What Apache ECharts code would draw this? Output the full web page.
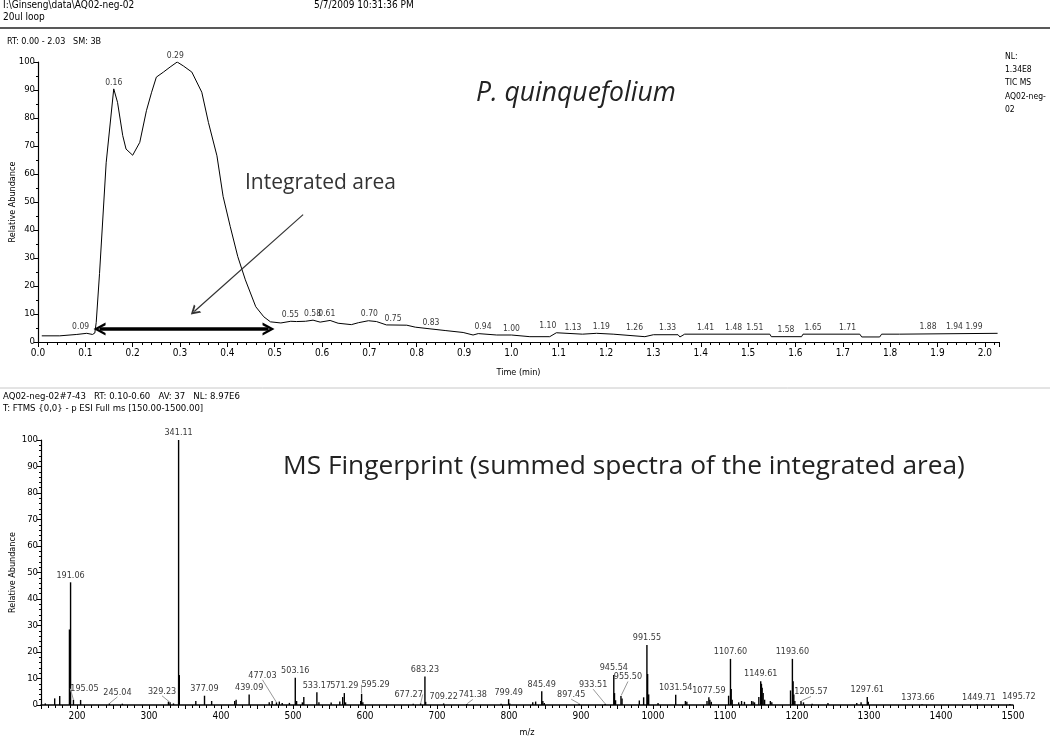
<html>
<head>
<meta charset="utf-8" />
<script src="https://cdn.jsdelivr.net/npm/echarts@6/dist/echarts.min.js"></script>
<style>
  html, body { margin: 0; padding: 0; background: #fff; }
  #main { width: 1050px; height: 741px; }
</style>
</head>
<body>
<div id="main"></div>
<script type="text/javascript">
// chromatogram (TIC), time in min vs relative abundance
var ticTime = [0.008, 0.046, 0.05, 0.082, 0.085, 0.103, 0.106, 0.115, 0.12, 0.123, 0.13, 0.144, 0.16, 0.168,
  0.179, 0.186, 0.2, 0.215, 0.229, 0.24, 0.25, 0.265, 0.279, 0.294, 0.307, 0.325, 0.346, 0.36, 0.378, 0.391,
  0.406, 0.422, 0.438, 0.46, 0.477, 0.491, 0.513, 0.534, 0.546, 0.565, 0.581, 0.596, 0.617, 0.634, 0.662,
  0.677, 0.698, 0.715, 0.736, 0.779, 0.797, 0.828, 0.86, 0.898, 0.919, 0.93, 0.969, 1.0, 1.039, 1.081, 1.095,
  1.15, 1.18, 1.215, 1.282, 1.30, 1.352, 1.356, 1.366, 1.546, 1.549, 1.613, 1.616, 1.736, 1.74, 1.778, 1.782,
  1.82, 1.824, 2.027];
var ticAbund = [2.2, 2.2, 2.6, 2.7, 3.1, 3.1, 2.7, 2.7, 3.2, 7, 24.5, 64, 90.4, 85.6,
  73.7, 68.9, 66.7, 71.3, 82.6, 89.2, 94.6, 96.4, 98.2, 100, 98.6, 96.4, 89.2, 78.4, 66.5, 52,
  41.3, 30.5, 22.2, 12.6, 9, 7.2, 6.8, 7.4, 7.3, 7.4, 7.8, 7.1, 7.7, 6.7, 6.2,
  6.9, 7.6, 7.3, 6.1, 6.0, 5.3, 4.7, 4.1, 3.4, 2.5, 3.0, 2.5, 2.5, 1.9, 1.9, 3.3,
  2.8, 3.1, 2.8, 1.9, 2.6, 2.6, 1.8, 2.8, 2.8, 1.9, 1.9, 2.8, 2.8, 1.8, 1.8, 2.8,
  2.8, 3.1, 3.1];

// labelled retention times on the TIC
var ticPeakRT = [0.09, 0.16, 0.29, 0.55, 0.58, 0.61, 0.70, 0.75, 0.83, 0.94, 1.00, 1.10, 1.13, 1.19, 1.26,
  1.33, 1.41, 1.48, 1.51, 1.58, 1.65, 1.71, 1.88, 1.94, 1.99];
var ticPeakAbund = [3.1, 90.4, 100, 7.4, 7.8, 7.7, 7.6, 6.0, 4.7, 3.0, 2.5, 3.3, 2.9, 3.1, 2.7,
  2.6, 2.8, 2.8, 2.8, 1.9, 2.8, 2.8, 3.1, 3.1, 3.1];
// horizontal nudges (px) of some TIC labels
var ticLabelShift = { '0.55': -8, '1.10': -11, '1.48': -5, '1.51': 2, '1.65': -6, '1.94': -2, '1.99': -6 };

// integrated range and the annotation arrow (time, abundance)
var integRange = [0.13, 0.487];
var integLevel = 4.6;
var noteArrowFrom = [0.56, 45.5];
var noteArrowTo = [0.33, 10.9];

// mass spectrum, m/z vs relative abundance
var specMz = [156.0, 169.0, 176.0, 189.5, 191.06, 195.05, 205.0, 245.04, 263.0, 327.0, 329.23, 334.0,
  341.11, 342.11, 365.0, 377.09, 387.0, 419.0, 421.0, 439.09, 467.0, 471.0, 477.03, 481.0, 485.0, 495.0,
  503.16, 505.0, 513.0, 515.0, 533.17, 536.0, 553.0, 565.0, 569.0, 571.29, 573.0, 594.0, 595.29, 597.0,
  667.0, 677.27, 683.23, 684.23, 709.22, 741.38, 789.0, 799.49, 801.0, 833.0, 837.0, 845.49, 847.0, 849.0,
  897.45, 933.51, 945.54, 946.54, 948.0, 955.50, 957.0, 981.0, 987.0, 991.55, 992.55, 994.0, 1007.0,
  1031.54, 1045.0, 1047.0, 1075.0, 1077.59, 1079.0, 1081.0, 1105.0, 1107.60, 1108.60, 1110.0, 1119.0,
  1123.0, 1127.0, 1137.0, 1139.0, 1141.0, 1147.0, 1149.61, 1150.61, 1151.6, 1153.0, 1155.0, 1163.0,
  1165.0, 1191.0, 1193.60, 1194.6, 1195.6, 1197.0, 1205.57, 1209.0, 1221.0, 1243.0, 1283.0, 1289.0,
  1297.61, 1299.0, 1373.66, 1449.71, 1495.72];
var specAbund = [0.6, 2.5, 3.4, 28.5, 46.3, 2.0, 1.9, 0.6, 0.5, 1.3, 1.0, 0.6,
  100, 11.3, 1.5, 3.5, 1.5, 1.5, 2.0, 4.0, 1.0, 1.5, 1.0, 1.3, 0.8, 0.8,
  10.3, 1.5, 1.0, 3.0, 4.8, 1.0, 0.9, 1.3, 3.0, 4.5, 1.0, 1.5, 4.2, 1.0,
  0.5, 0.6, 10.8, 1.2, 0.6, 0.4, 0.5, 2.2, 0.6, 1.0, 1.3, 5.2, 1.5, 0.8,
  0.5, 0.5, 11.3, 4.5, 1.8, 3.4, 2.5, 1.7, 2.9, 22.6, 11.7, 4.0, 0.8,
  3.9, 1.5, 1.2, 1.5, 2.9, 2.0, 1.2, 3.5, 17.4, 6.0, 2.0, 1.0,
  1.5, 1.2, 1.5, 1.3, 1.0, 3.0, 9.0, 8.0, 6.5, 4.5, 2.0, 1.5,
  1.0, 5.5, 17.4, 9.0, 4.0, 1.5, 1.5, 1.0, 0.5, 0.8, 0.8, 1.0,
  3.0, 1.2, 0.3, 0.3, 0.4];

// labelled m/z values
var specLabelMz = ['191.06', '195.05', '245.04', '329.23', '341.11', '377.09', '439.09', '477.03', '503.16',
  '533.17', '571.29', '595.29', '677.27', '683.23', '709.22', '741.38', '799.49', '845.49', '897.45',
  '933.51', '945.54', '955.50', '991.55', '1031.54', '1077.59', '1107.60', '1149.61', '1193.60', '1205.57',
  '1297.61', '1373.66', '1449.71', '1495.72'];

// label nudges (px); the third entry says whether a guide line is drawn
var specLabelShift = {
  '195.05': [11, -4, true], '245.04': [8, -4, true], '329.23': [-8, -4, true], '477.03': [-14, -20, true],
  '595.29': [14, -2, true], '677.27': [-12, -2, true], '741.38': [6, -2, true], '897.45': [-8, -2, true],
  '933.51': [-12, -12, true], '955.50': [7, -12, true], '1205.57': [10, -2, true],
  '1373.66': [-4, 0, false], '1449.71': [2, 0, false], '1495.72': [9, 0, false]
};

var NARROW = "'DejaVu Sans Condensed', 'Liberation Sans', sans-serif";
var BIG = "'Open Sans', 'Noto Sans', sans-serif";

function pairs(xs, ys) {
  var out = [];
  for (var i = 0; i < xs.length; i++) out.push([xs[i], ys[i]]);
  return out;
}
function abundAt(mz) {
  var i = specMz.indexOf(mz);
  return i >= 0 ? specAbund[i] : 0;
}

var chevron = 'path://M10,0 L20,15 L16,15 L10,6 L4,15 L0,15 Z';

var specLabelData = specLabelMz.map(function (s) {
  var mz = parseFloat(s);
  var item = { value: [mz, abundAt(mz)], name: s };
  if (specLabelShift[s] && specLabelShift[s][2]) {
    item.labelLine = { show: true };
  }
  return item;
});

var ticLabelData = ticPeakRT.map(function (t, i) {
  var s = t.toFixed(2);
  var item = { value: [t, ticPeakAbund[i]], name: s };
  if (ticLabelShift[s]) item.label = { offset: [ticLabelShift[s], 0] };
  return item;
});

function axisY(gap, minorSplit) {
  return {
    type: 'value', min: 0, max: 100, interval: 10,
    name: 'Relative Abundance', nameLocation: 'middle', nameGap: gap, nameMoveOverlap: false,
    nameTextStyle: { fontSize: 9, color: '#000', fontFamily: NARROW },
    axisLine: { show: true, lineStyle: { color: '#000', width: 1.2 } },
    axisTick: { show: true, length: 4, lineStyle: { color: '#000' } },
    minorTick: { show: true, splitNumber: minorSplit, length: 2, lineStyle: { color: '#000' } },
    splitLine: { show: false },
    axisLabel: { fontSize: 9.5, color: '#000', margin: 3, fontFamily: NARROW }
  };
}

var yTop = axisY(21, 2);
yTop.gridIndex = 0;
var yBottom = axisY(24, 5);
yBottom.gridIndex = 1;

var chart = echarts.init(document.getElementById('main'));
var option = {
  animation: false,
  backgroundColor: '#fff',
  textStyle: { fontFamily: NARROW },
  grid: [
    { left: 38, right: 51, top: 62, bottom: 399, outerBoundsMode: 'none', containLabel: false },
    { left: 41, right: 37, top: 440, bottom: 36, outerBoundsMode: 'none', containLabel: false }
  ],
  xAxis: [{
    type: 'value', gridIndex: 0, min: 0, max: 2.03, interval: 0.1,
    name: 'Time (min)', nameLocation: 'middle', nameGap: 26, nameMoveOverlap: false,
    nameTextStyle: { fontSize: 9, color: '#000', fontFamily: NARROW },
    axisLine: { lineStyle: { color: '#000', width: 1.2 } },
    axisTick: { length: 5, lineStyle: { color: '#000' } },
    minorTick: { show: true, splitNumber: 5, length: 3, lineStyle: { color: '#000' } },
    splitLine: { show: false },
    axisLabel: {
      fontSize: 10, color: '#000', margin: 6, fontFamily: NARROW,
      formatter: function (v) {
        return Math.abs(v * 10 - Math.round(v * 10)) < 1e-6 ? v.toFixed(1) : '';
      }
    }
  }, {
    type: 'value', gridIndex: 1, min: 150, max: 1500, interval: 50,
    name: 'm/z', nameLocation: 'middle', nameGap: 23, nameMoveOverlap: false,
    nameTextStyle: { fontSize: 9, color: '#000', fontFamily: NARROW },
    axisLine: { lineStyle: { color: '#000', width: 1.5 } },
    axisTick: { length: 4, lineStyle: { color: '#000' } },
    minorTick: { show: true, splitNumber: 5, length: 3, lineStyle: { color: '#000' } },
    splitLine: { show: false },
    axisLabel: {
      fontSize: 10, color: '#000', margin: 6, fontFamily: NARROW,
      formatter: function (v) { return v % 100 === 0 ? String(v) : ''; }
    }
  }],
  yAxis: [yTop, yBottom],
  series: [{
    type: 'line', xAxisIndex: 0, yAxisIndex: 0,
    data: pairs(ticTime, ticAbund),
    showSymbol: false, symbol: 'none',
    lineStyle: { color: '#000', width: 1 },
    markLine: {
      silent: true,
      animation: false,
      label: { show: false },
      data: [
        [{ coord: [integRange[0], integLevel], symbol: chevron, symbolSize: [13, 12],
           lineStyle: { width: 3.5, color: '#000', type: 'solid' } },
         { coord: [integRange[1], integLevel], symbol: chevron, symbolSize: [13, 12] }],
        [{ coord: noteArrowFrom, symbol: 'none', lineStyle: { width: 1.2, color: '#333', type: 'solid' } },
         { coord: noteArrowTo, symbol: chevron, symbolSize: [11, 9] }]
      ]
    }
  }, {
    type: 'scatter', xAxisIndex: 0, yAxisIndex: 0,
    data: ticLabelData,
    symbolSize: 0, silent: true,
    label: {
      show: true, position: 'top', distance: 2, fontSize: 8.5, color: '#000', fontFamily: NARROW,
      formatter: function (p) { return p.name; }
    }
  }, {
    type: 'bar', xAxisIndex: 1, yAxisIndex: 1,
    data: pairs(specMz, specAbund),
    barWidth: 1.4, barGap: '-100%',
    itemStyle: { color: '#000' },
    silent: true
  }, {
    type: 'scatter', xAxisIndex: 1, yAxisIndex: 1,
    data: specLabelData,
    symbolSize: 1, itemStyle: { color: 'rgba(0,0,0,0)' }, silent: true,
    label: {
      show: true, position: 'top', distance: 2, fontSize: 9, color: '#000', fontFamily: NARROW,
      formatter: function (p) { return p.name; }
    },
    labelLine: { show: false, lineStyle: { color: '#999', width: 1 } },
    labelLayout: function (p) {
      var s = specLabelShift[specLabelMz[p.dataIndex]];
      return s ? { dx: s[0], dy: s[1] } : {};
    }
  }],
  graphic: [
    { type: 'text', left: 3, top: 0, style: { text: 'I:\\Ginseng\\data\\AQ02-neg-02', font: '10px ' + NARROW, fill: '#000' } },
    { type: 'text', left: 3, top: 12, style: { text: '20ul loop', font: '10px ' + NARROW, fill: '#000' } },
    { type: 'text', left: 314, top: 0, style: { text: '5/7/2009 10:31:36 PM', font: '10px ' + NARROW, fill: '#000' } },
    { type: 'line', shape: { x1: 0, y1: 28, x2: 1050, y2: 28 }, style: { stroke: '#222', lineWidth: 1.5 } },
    { type: 'text', left: 7, top: 37, style: { text: 'RT: 0.00 - 2.03   SM: 3B', font: '9px ' + NARROW, fill: '#000' } },
    { type: 'text', left: 1005, top: 50, style: { text: 'NL:\n1.34E8\nTIC MS\nAQ02-neg-\n02', font: '8.5px ' + NARROW, fill: '#000', lineHeight: 13.3 } },
    { type: 'text', left: 476, top: 80, style: { text: 'P. quinquefolium', font: 'italic 26.5px ' + BIG, fill: '#222' } },
    { type: 'text', left: 245, top: 173, style: { text: 'Integrated area', font: '21px ' + BIG, fill: '#333' } },
    { type: 'line', shape: { x1: 0, y1: 388, x2: 1050, y2: 388 }, style: { stroke: '#c8c8c8', lineWidth: 1 } },
    { type: 'text', left: 3, top: 392, style: { text: 'AQ02-neg-02#7-43   RT: 0.10-0.60   AV: 37   NL: 8.97E6', font: '9.5px ' + NARROW, fill: '#000' } },
    { type: 'text', left: 3, top: 404, style: { text: 'T: FTMS {0,0} - p ESI Full ms [150.00-1500.00]', font: '9.5px ' + NARROW, fill: '#000' } },
    { type: 'text', left: 283, top: 454, style: { text: 'MS Fingerprint (summed spectra of the integrated area)', font: '26.3px ' + BIG, fill: '#222' } }
  ]
};
chart.setOption(option);
</script>
</body>
</html>
